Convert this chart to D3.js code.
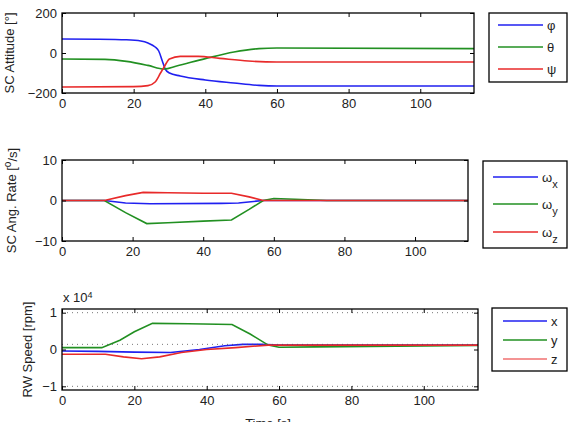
<!DOCTYPE html>
<html>
<head>
<meta charset="utf-8">
<script src="https://cdn.jsdelivr.net/npm/d3@7"></script>
<style>
  body { margin: 0; background: #fff; }
  text { font-family: "Liberation Sans", Arial, sans-serif; fill: #222; }
</style>
</head>
<body>
<div id="chart"></div>
<script>
(function () {

    var width = 571;
    var height = 422;

    // time axis, shared by the three panels
    var timeTicks = [0, 20, 40, 60, 80, 100];

    // attitude [deg], pairs of [t, value]
    var attPhi = [[0, 70], [10, 69], [18, 66], [22, 60], [24, 50], [26, 30], [27, 10], [28, -40], [28.8, -80],
        [30, -100], [33, -115], [40, -135], [48, -150], [55, -162], [60, -165], [115, -165]];
    var attTheta = [[0, -30], [12, -32], [18, -42], [24, -62], [28.5, -80], [32, -65], [40, -28], [48, 5],
        [55, 22], [60, 25], [115, 22]];
    var attPsi = [[0, -170], [20, -168], [24, -163], [26, -145], [27.5, -100], [28.5, -70], [30, -30],
        [33, -17], [38, -17], [44, -27], [52, -40], [60, -45], [115, -45]];
    var attTicks = [-200, 0, 200];

    // angular rate [deg/s]
    var rateX = [[0, 0], [12, 0], [18, -0.6], [25, -0.8], [45, -0.7], [50, -0.6], [57, 0], [115, 0]];
    var rateY = [[0, 0], [12, 0], [18, -3], [24, -5.7], [30, -5.5], [40, -5.1], [48, -4.8], [53, -2.2],
        [57, 0], [60, 0.5], [66, 0.3], [75, 0], [115, 0]];
    var rateZ = [[0, 0], [12, 0], [18, 1.2], [23, 2], [30, 1.9], [40, 1.8], [48, 1.8], [53, 0.9], [57, 0], [115, 0]];
    var rateTicks = [-10, 0, 10];

    // reaction wheel speed [x 10^4 rpm]
    var rwX = [[0, -0.04], [10, -0.05], [20, -0.07], [30, -0.08], [38, 0], [45, 0.1], [50, 0.14],
        [55, 0.14], [60, 0.12], [115, 0.12]];
    var rwY = [[0, 0.05], [11, 0.05], [16, 0.25], [20, 0.48], [25, 0.71], [35, 0.7], [47, 0.68],
        [52, 0.42], [57, 0.12], [60, 0.06], [70, 0.07], [115, 0.11]];
    var rwZ = [[0, -0.13], [12, -0.13], [17, -0.2], [22, -0.25], [27, -0.2], [33, -0.08], [40, 0],
        [48, 0.05], [57, 0.12], [115, 0.12]];
    var rwRef = [[0, 0.14], [115, 0.14]];
    var rwTicks = [-1, 0, 1];

    var blue = "#2020f0", green = "#229022", red = "#e82a2a", salmon = "#f07070";

    var svg = d3.select("#chart")
        .append("svg")
        .attr("width", width)
        .attr("height", height)
        .style("background", "#fff");

    var panels = [
        {
            box: [62, 13, 474, 93], yDomain: [-200, 200], yTicks: attTicks, curve: d3.curveMonotoneX,
            series: [{ d: attPhi, c: blue }, { d: attTheta, c: green }, { d: attPsi, c: red }],
            ylabel: "SC Attitude [\u00B0]", ylabelX: 9,
            legend: { box: [489, 13, 567, 82], x1: 498, x2: 543, rows: [25, 47, 69],
                items: [{ t: "\u03C6", c: blue }, { t: "\u03B8", c: green }, { t: "\u03C8", c: red }] }
        },
        {
            box: [62, 160, 468, 241], yDomain: [-10, 10], yTicks: rateTicks, curve: d3.curveLinear,
            series: [{ d: rateX, c: blue }, { d: rateY, c: green }, { d: rateZ, c: red }],
            ylabel: "rate", ylabelX: 11,
            legend: { box: [483, 161, 567, 248], x1: 493, x2: 538, rows: [177, 204, 232],
                items: [{ t: "\u03C9", s: "x", c: blue }, { t: "\u03C9", s: "y", c: green }, { t: "\u03C9", s: "z", c: red }] }
        },
        {
            box: [62, 309, 478, 390], yDomain: [-1.1, 1.1], yTicks: rwTicks, curve: d3.curveLinear,
            series: [{ d: rwX, c: blue }, { d: rwY, c: green }, { d: rwZ, c: red }],
            ylabel: "RW Speed [rpm]", ylabelX: 27, grid: true,
            legend: { box: [492, 308, 567, 371], x1: 503, x2: 547, rows: [321, 340, 359],
                items: [{ t: "x", c: blue }, { t: "y", c: green }, { t: "z", c: salmon }] }
        }
    ];

    panels.forEach(function (p, i) {
        var b = p.box;
        var x = d3.scaleLinear().domain([0, 115]).range([b[0], b[2]]);
        var y = d3.scaleLinear().domain(p.yDomain).range([b[3], b[1]]);
        var g = svg.append("g");

        if (p.grid) {
            // dotted lines at +-1
            g.selectAll(".grid")
                .data(p.yTicks.filter(function (v) { return v !== 0; }))
                .enter().append("line")
                .attr("x1", b[0]).attr("x2", b[2])
                .attr("y1", function (d) { return y(d); })
                .attr("y2", function (d) { return y(d); })
                .attr("stroke", "#777")
                .attr("stroke-dasharray", "1,4");
        }

        var line = d3.line()
            .x(function (d) { return x(d[0]); })
            .y(function (d) { return y(d[1]); })
            .curve(p.curve);

        g.selectAll(".series")
            .data(p.series)
            .enter().append("path")
            .attr("d", function (s) { return line(s.d); })
            .attr("fill", "none")
            .attr("stroke", function (s) { return s.c; })
            .attr("stroke-width", 1.6);

        if (p.grid) {
            g.append("path")
                .attr("d", line(rwRef))
                .attr("fill", "none")
                .attr("stroke", "#555")
                .attr("stroke-width", 0.8)
                .attr("stroke-dasharray", "1,4");
        }

        // frame
        g.append("rect")
            .attr("x", b[0]).attr("y", b[1])
            .attr("width", b[2] - b[0]).attr("height", b[3] - b[1])
            .attr("fill", "none")
            .attr("stroke", "#000")
            .attr("stroke-width", 1.3);

        // inward ticks, matlab style
        var bottom = d3.axisBottom(x).tickValues(timeTicks).tickSizeInner(-4).tickSizeOuter(0).tickPadding(6);
        var top = d3.axisTop(x).tickValues(timeTicks).tickSizeInner(-4).tickSizeOuter(0).tickFormat("");
        var left = d3.axisLeft(y).tickValues(p.yTicks).tickSizeInner(-4).tickSizeOuter(0).tickPadding(5)
            .tickFormat(function (d) { return d < 0 ? "\u2212" + Math.abs(d) : d; });
        var right = d3.axisRight(y).tickValues(p.yTicks).tickSizeInner(-4).tickSizeOuter(0).tickFormat("");

        [
            g.append("g").attr("transform", "translate(0," + b[3] + ")").call(bottom),
            g.append("g").attr("transform", "translate(0," + b[1] + ")").call(top),
            g.append("g").attr("transform", "translate(" + b[0] + ",0)").call(left),
            g.append("g").attr("transform", "translate(" + b[2] + ",0)").call(right)
        ].forEach(function (a) {
            a.select(".domain").remove();
            a.selectAll("line").attr("stroke", "#000");
            a.selectAll("text").style("font-size", "13px").attr("fill", "#222")
                .style("font-family", "'Liberation Sans', Arial, sans-serif");
        });

        // y label
        var yl = svg.append("text")
            .attr("transform", "translate(" + p.ylabelX + "," + ((b[1] + b[3]) / 2) + ") rotate(-90)")
            .attr("text-anchor", "middle")
            .attr("dy", "0.35em")
            .style("font-size", "13px");
        if (p.ylabel === "rate") {
            yl.append("tspan").text("SC Ang. Rate [");
            yl.append("tspan").attr("dy", "-0.45em").style("font-size", "10px").text("o");
            yl.append("tspan").attr("dy", "0.45em").text("/s]");
        } else {
            yl.text(p.ylabel);
        }

        // legend
        var L = p.legend;
        svg.append("rect")
            .attr("x", L.box[0]).attr("y", L.box[1])
            .attr("width", L.box[2] - L.box[0]).attr("height", L.box[3] - L.box[1])
            .attr("fill", "#fff")
            .attr("stroke", "#000")
            .attr("stroke-width", 1.3);
        L.items.forEach(function (it, k) {
            var ry = L.rows[k];
            svg.append("line")
                .attr("x1", L.x1).attr("x2", L.x2)
                .attr("y1", ry).attr("y2", ry)
                .attr("stroke", it.c)
                .attr("stroke-width", 1.6);
            var t = svg.append("text")
                .attr("x", L.x2 + 4).attr("y", ry)
                .attr("dy", "0.35em")
                .style("font-size", "13px")
                .text(it.t);
            if (it.s) {
                t.append("tspan").attr("dy", "0.55em").style("font-size", "11px").text(it.s);
            }
        });
    });

    // exponent label of the wheel speed panel
    var ex = svg.append("text")
        .attr("x", 63).attr("y", 302)
        .style("font-size", "13px");
    ex.append("tspan").text("x 10");
    ex.append("tspan").attr("dy", "-0.5em").style("font-size", "9px").text("4");

    svg.append("text")
        .attr("x", 268).attr("y", 428)
        .attr("text-anchor", "middle")
        .style("font-size", "13px")
        .text("Time [s]");

})();
</script>
</body>
</html>
